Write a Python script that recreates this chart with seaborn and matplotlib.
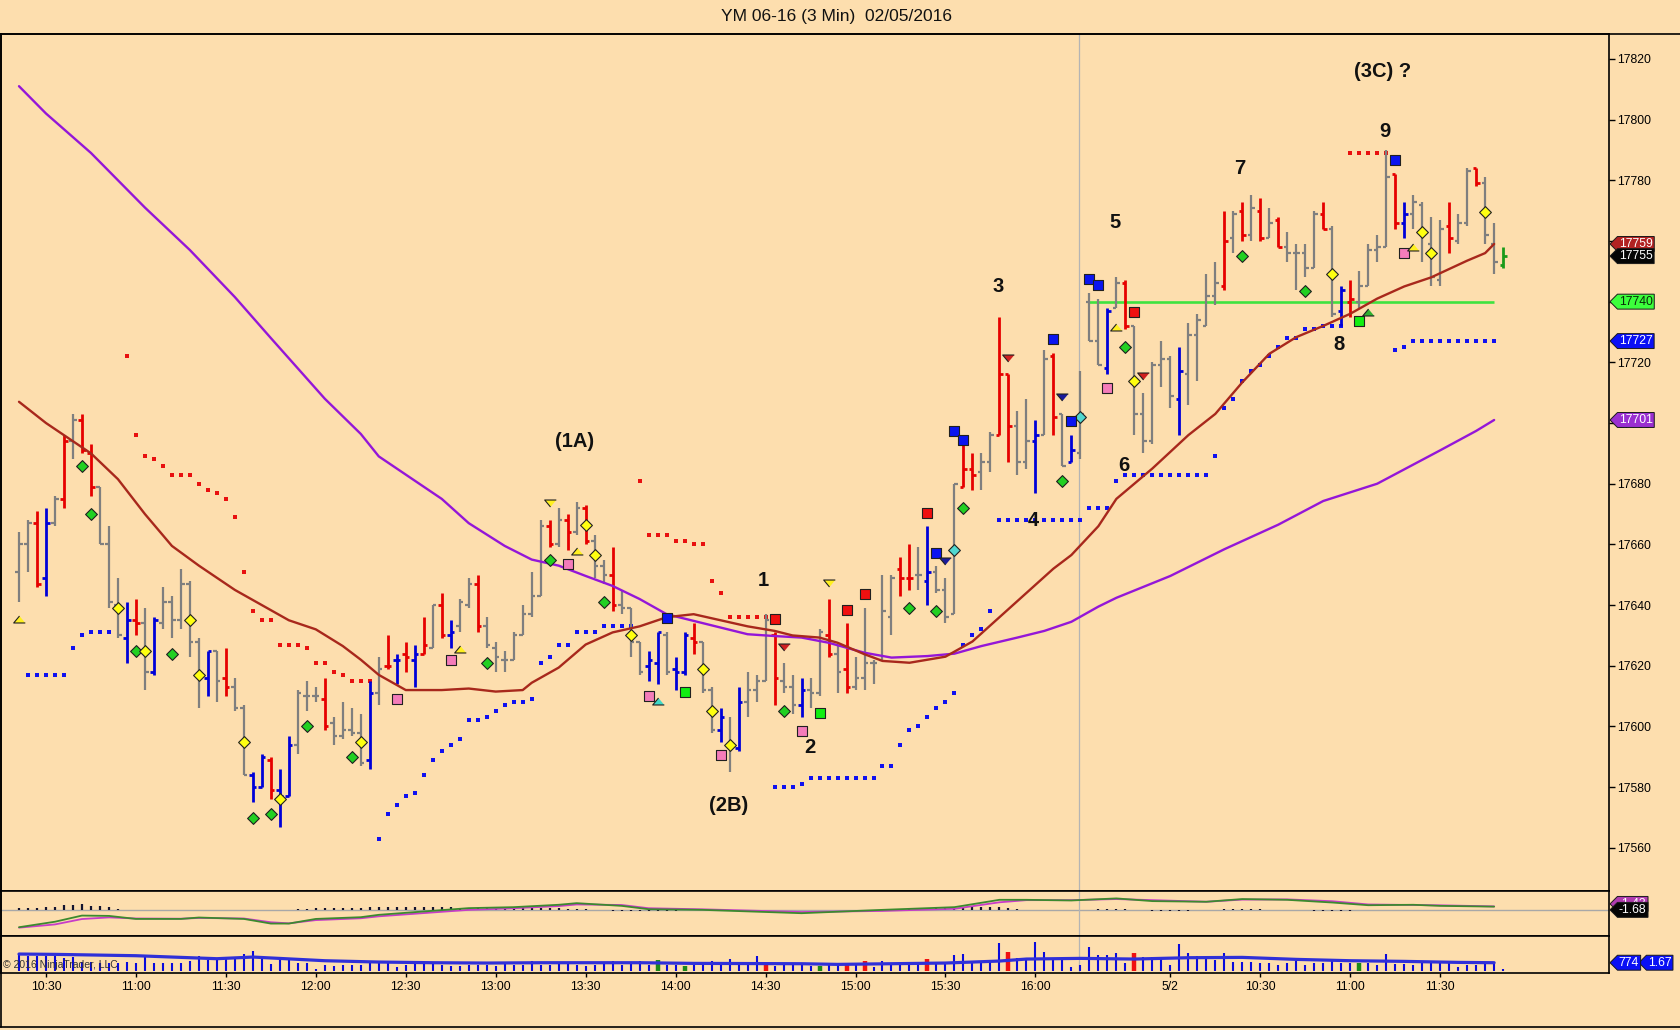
import numpy as np
import pandas as pd
import seaborn as sns
import matplotlib.pyplot as plt
import matplotlib.transforms as mtransforms
from matplotlib.path import Path
from matplotlib.lines import Line2D

# 3 min bars: bar 0 = 10:21 on 2/4, bar 119 = 9:33 on 2/5
opens = [17651, 17660, 17667, 17649, 17667, 17675, 17694, 17701, 17690, 17679,
         17660, 17640, 17629, 17635, 17634, 17618, 17634, 17641, 17635, 17647,
         17628, 17616, 17625, 17616, 17613, 17606, 17584, 17580, 17589, 17579,
         17577, 17594, 17610, 17610, 17609, 17601, 17597, 17599, 17598, 17589,
         17611, 17620, 17622, 17624, 17622, 17624, 17626, 17640, 17630, 17633,
         17640, 17647, 17633, 17626, 17622, 17622, 17630, 17637, 17643, 17666,
         17660, 17668, 17664, 17672, 17661, 17653, 17650, 17640, 17639, 17628,
         17620, 17621, 17630, 17619, 17618, 17629, 17628, 17612, 17599, 17594,
         17593, 17608, 17612, 17615, 17630, 17615, 17613, 17607, 17612, 17611,
         17630, 17624, 17619, 17613, 17616, 17621, 17622, 17636, 17652, 17649,
         17650, 17648, 17651, 17645, 17637, 17679, 17685, 17684, 17687, 17696,
         17716, 17699, 17687, 17694, 17696, 17722, 17703, 17687, 17690, 17740,
         17727, 17718, 17738, 17746, 17732, 17703, 17694, 17719, 17721, 17708,
         17716, 17729, 17732, 17742, 17745, 17761, 17770, 17762, 17770, 17761,
         17767, 17758, 17756, 17756, 17751, 17769, 17764, 17737, 17740, 17740,
         17745, 17757, 17758, 17782, 17766, 17769, 17772, 17759, 17747, 17765,
         17760, 17766, 17784, 17779, 17759, 17752]
highs = [17664, 17668, 17671, 17672, 17676, 17696, 17703, 17703, 17693, 17679,
         17666, 17649, 17641, 17642, 17639, 17636, 17646, 17643, 17652, 17648,
         17629, 17625, 17625, 17626, 17616, 17607, 17585, 17591, 17590, 17586,
         17597, 17612, 17615, 17613, 17616, 17603, 17608, 17606, 17604, 17615,
         17623, 17630, 17624, 17628, 17627, 17636, 17640, 17644, 17635, 17642,
         17649, 17650, 17636, 17628, 17625, 17631, 17640, 17651, 17668, 17668,
         17672, 17670, 17674, 17673, 17663, 17655, 17659, 17645, 17639, 17628,
         17625, 17631, 17631, 17623, 17631, 17634, 17628, 17613, 17606, 17603,
         17613, 17618, 17617, 17637, 17631, 17621, 17617, 17616, 17616, 17632,
         17642, 17627, 17634, 17623, 17639, 17622, 17650, 17650, 17656, 17660,
         17659, 17666, 17653, 17649, 17680, 17693, 17690, 17690, 17697, 17735,
         17716, 17704, 17708, 17701, 17724, 17723, 17703, 17696, 17717, 17743,
         17741, 17738, 17748, 17747, 17732, 17710, 17720, 17727, 17722, 17725,
         17733, 17736, 17749, 17753, 17770, 17770, 17773, 17775, 17774, 17771,
         17768, 17763, 17759, 17759, 17770, 17773, 17765, 17745, 17747, 17750,
         17759, 17762, 17790, 17782, 17773, 17775, 17773, 17768, 17767, 17773,
         17769, 17784, 17784, 17781, 17766, 17758]
lows = [17641, 17651, 17646, 17643, 17666, 17672, 17688, 17690, 17676, 17660,
        17639, 17629, 17621, 17630, 17612, 17617, 17632, 17629, 17632, 17623,
        17606, 17610, 17608, 17610, 17605, 17584, 17575, 17580, 17576, 17567,
        17577, 17591, 17605, 17608, 17599, 17594, 17596, 17597, 17587, 17586,
        17607, 17619, 17614, 17618, 17613, 17624, 17626, 17629, 17626, 17631,
        17639, 17631, 17626, 17618, 17618, 17622, 17630, 17636, 17643, 17659,
        17659, 17658, 17663, 17660, 17649, 17647, 17638, 17637, 17623, 17617,
        17615, 17614, 17617, 17612, 17617, 17624, 17611, 17598, 17595, 17585,
        17592, 17603, 17608, 17615, 17607, 17611, 17604, 17603, 17606, 17610,
        17623, 17611, 17611, 17612, 17612, 17614, 17622, 17630, 17643, 17645,
        17645, 17640, 17644, 17634, 17637, 17679, 17678, 17678, 17684, 17696,
        17687, 17683, 17685, 17677, 17696, 17696, 17686, 17687, 17688, 17727,
        17719, 17716, 17738, 17731, 17696, 17690, 17693, 17712, 17705, 17696,
        17706, 17714, 17732, 17739, 17744, 17756, 17760, 17760, 17760, 17761,
        17758, 17753, 17744, 17748, 17751, 17764, 17735, 17732, 17735, 17738,
        17745, 17753, 17758, 17764, 17761, 17764, 17753, 17745, 17745, 17756,
        17759, 17765, 17778, 17759, 17749, 17751]
closes = [17660, 17667, 17647, 17667, 17675, 17694, 17701, 17691, 17679, 17660,
          17641, 17630, 17635, 17634, 17618, 17635, 17641, 17635, 17647, 17628,
          17616, 17625, 17615, 17613, 17606, 17584, 17580, 17590, 17579, 17577,
          17594, 17611, 17610, 17610, 17600, 17597, 17599, 17598, 17588, 17611,
          17619, 17620, 17622, 17623, 17624, 17627, 17640, 17630, 17631, 17641,
          17647, 17633, 17627, 17623, 17622, 17630, 17637, 17643, 17666, 17660,
          17668, 17664, 17672, 17661, 17653, 17650, 17640, 17639, 17628, 17618,
          17622, 17631, 17618, 17618, 17630, 17628, 17612, 17599, 17603, 17593,
          17608, 17612, 17615, 17635, 17616, 17613, 17607, 17612, 17611, 17631,
          17624, 17618, 17613, 17616, 17621, 17621, 17638, 17649, 17649, 17649,
          17650, 17651, 17645, 17636, 17680, 17685, 17683, 17687, 17696, 17716,
          17699, 17687, 17694, 17696, 17721, 17702, 17686, 17691, 17703, 17727,
          17719, 17737, 17746, 17732, 17703, 17694, 17719, 17721, 17709, 17717,
          17729, 17734, 17742, 17746, 17760, 17769, 17762, 17771, 17761, 17766,
          17758, 17756, 17756, 17751, 17769, 17764, 17736, 17744, 17741, 17745,
          17757, 17758, 17781, 17766, 17769, 17773, 17763, 17748, 17764, 17761,
          17766, 17783, 17779, 17762, 17753, 17755]

# bar paint state
red_bars = [2, 5, 7, 8, 13, 23, 28, 34, 41, 43, 45, 47, 51, 59, 61, 63, 66, 75, 84, 90,
            92, 98, 99, 105, 106, 109, 110, 115, 123, 134, 136, 138, 140, 145, 148, 153, 159, 162]
blue_bars = [3, 12, 15, 21, 26, 27, 29, 30, 39, 42, 44, 48, 70, 71, 73, 74, 78, 80, 87, 101,
             113, 117, 121, 129, 147, 154]
green_bars = [165]

# moving averages (sampled along the bars)
fast_ma_idx = [0, 3, 5, 8, 11, 14, 17, 20, 24, 27, 30, 33, 36, 38, 40, 43, 47, 50, 53, 56,
               57, 60, 63, 66, 69, 72, 75, 78, 81, 84, 86, 89, 91, 94, 96, 99, 103, 106, 109, 112,
               115, 117, 120, 122, 126, 130, 133, 136, 139, 142, 145, 148, 151, 154, 157, 161, 163, 164]
fast_ma = [17707, 17700, 17696, 17690, 17681.5, 17670, 17659.5, 17653, 17645, 17640,
           17635, 17632, 17626.5, 17622, 17617, 17612, 17612, 17612.5, 17611.5, 17612,
           17614.4, 17619.4, 17627, 17631, 17633, 17636, 17637, 17635, 17633, 17631.5,
           17630, 17629.3, 17627.6, 17623.8, 17621.6, 17621, 17623, 17628, 17636, 17644,
           17652, 17656.5, 17666, 17675, 17685, 17696, 17703, 17713.4, 17722.8, 17728.3,
           17732, 17736, 17741, 17745, 17748, 17753.5, 17756, 17759]
slow_ma_idx = [0, 3, 8, 12, 14, 19, 24, 28, 31, 34, 38, 40, 44, 47, 50, 54, 57, 60, 63, 66,
               69, 72, 75, 78, 81, 84, 87, 90, 94, 97, 101, 104, 107, 111, 114, 117, 120, 122, 128, 134,
               140, 145, 151, 158, 162, 164]
slow_ma = [17811, 17802, 17789, 17777, 17771, 17757, 17741.5, 17728, 17718, 17708,
           17696.4, 17689, 17681, 17675, 17667, 17659.5, 17655, 17653, 17649.6, 17646.3,
           17642, 17637, 17634.8, 17632.6, 17630.4, 17629.8, 17629.3, 17627.6, 17624.3, 17622.7,
           17623.2, 17624, 17626.5, 17629.3, 17631.5, 17634.5, 17639.5, 17642.4, 17649.6, 17658.4,
           17666.5, 17674.3, 17680, 17691, 17697.4, 17701]

# trailing stop dots
long_stop_idx = [1, 2, 3, 4, 5, 6, 7, 8, 9, 10,
                 40, 41, 42, 43, 44, 45, 46, 47, 48, 49, 50, 51, 52, 53, 54, 55, 56, 57, 58, 59,
                 60, 61, 62, 63, 64, 65, 66, 67, 68,
                 84, 85, 86, 87, 88, 89, 90, 91, 92, 93, 94, 95, 96, 97, 98, 99, 100, 101, 102, 103,
                 104, 105, 106, 107, 108, 109, 110, 111, 112, 113, 114, 115, 116, 117, 118, 119, 120, 121, 122, 123,
                 124, 125, 126, 127, 128, 129, 130, 131, 132, 133, 134, 135, 136, 137, 138, 139, 140, 141, 142, 143,
                 144, 145, 146, 147, 153, 154, 155, 156, 157, 158, 159, 160, 161, 162, 163, 164]
long_stop = [17617, 17617, 17617, 17617, 17617, 17626, 17630, 17631, 17631, 17631,
             17563, 17571, 17574, 17577, 17578, 17584, 17589, 17592, 17594, 17596, 17602, 17602, 17603, 17605, 17607, 17608, 17608, 17609, 17621, 17623,
             17627, 17627, 17631, 17631, 17631, 17633, 17633, 17633, 17633,
             17580, 17580, 17580, 17581, 17583, 17583, 17583, 17583, 17583, 17583, 17583, 17583, 17587, 17587, 17594, 17599, 17600, 17603, 17606, 17608,
             17611, 17627, 17630, 17632, 17638, 17668, 17668, 17668, 17668, 17668, 17668, 17668, 17668, 17668, 17668, 17672, 17672, 17672, 17681, 17683,
             17683, 17683, 17683, 17683, 17683, 17683, 17683, 17683, 17683, 17689, 17705, 17708, 17714, 17717, 17719, 17722, 17725, 17728, 17728, 17731,
             17731, 17732, 17732, 17732, 17724, 17725, 17727, 17727, 17727, 17727, 17727, 17727, 17727, 17727, 17727, 17727]
short_stop_idx = [12, 13, 14, 15, 16, 17, 18, 19, 20, 21, 22, 23, 24, 25, 26, 27, 28, 29, 30, 31,
                  32, 33, 34, 35, 36, 37, 38, 39,
                  69, 70, 71, 72, 73, 74, 75, 76, 77, 78, 79, 80, 81, 82, 83,
                  148, 149, 150, 151, 152]
short_stop = [17722, 17696, 17689, 17688, 17686, 17683, 17683, 17683, 17680, 17678, 17677, 17675, 17669, 17651, 17638, 17635, 17635, 17627, 17627, 17627,
              17626, 17621, 17621, 17618, 17617, 17615, 17615, 17615,
              17681, 17663, 17663, 17663, 17661, 17661, 17660, 17660, 17648, 17644, 17636, 17636, 17636, 17636, 17636,
              17789, 17789, 17789, 17789, 17789]

# signal markers (bar index, price)
green_diamond_idx = [7, 8, 13, 17, 26, 28, 32, 37, 52, 59, 65, 85, 99, 102, 105, 116, 123, 136, 143]
green_diamond_px = [17686, 17670, 17625, 17624, 17570, 17571, 17600, 17590, 17621, 17655,
                    17641, 17605, 17639, 17638, 17672, 17681, 17725, 17755, 17743.5]
yellow_diamond_idx = [11, 14, 19, 20, 25, 29, 38, 63, 64, 68, 76, 77, 79, 124, 146, 156, 157, 163]
yellow_diamond_px = [17639, 17625, 17635, 17617, 17595, 17576, 17595, 17666.5, 17656.6, 17630,
                     17619, 17605, 17594, 17714, 17749, 17763, 17756, 17769.5]
cyan_diamond_idx = [104, 118]
cyan_diamond_px = [17658, 17702]
pink_square_idx = [42, 48, 61, 70, 78, 87, 121, 154]
pink_square_px = [17609, 17622, 17653.5, 17610, 17590.5, 17598.5, 17711.6, 17756]
blue_square_idx = [72, 102, 104, 105, 115, 117, 119, 120, 153]
blue_square_px = [17635.6, 17657.3, 17697.5, 17694.5, 17727.7, 17700.6, 17747.5, 17745.6, 17786.8]
red_square_idx = [84, 92, 94, 101, 124]
red_square_px = [17635.3, 17638.3, 17643.6, 17670.5, 17736.5]
green_square_idx = [74, 89, 149]
green_square_px = [17611.3, 17604.3, 17733.5]
yellow_up_idx = [0, 49, 62, 122, 155]
yellow_up_px = [17635.3, 17625.6, 17657.7, 17731.8, 17758]
yellow_down_idx = [59, 90]
yellow_down_px = [17673.5, 17647.4]
red_down_idx = [85, 110, 125]
red_down_px = [17626.3, 17721.5, 17715.4]
blue_down_idx = [103, 116]
blue_down_px = [17654.6, 17708.5]
green_up_idx = [150]
green_up_px = [17736.7]
teal_up_idx = [71]
teal_up_px = [17608.4]

# wave count labels
wave_text = ['(1A)', '1', '(2B)', '2', '3', '4', '5', '6', '7', '8', '9', '(3C) ?']
wave_idx = [61.8, 82.8, 78.9, 87.9, 108.8, 112.8, 121.8, 122.8, 135.7, 146.8, 151.8, 151.6]
wave_px = [17694, 17648, 17574, 17593, 17745, 17668, 17766, 17686, 17784, 17726, 17796, 17816]

# horizontal level and session break
level_px = 17740
level_from, level_to = 119, 164
session_break = 117.9

# oscillator panel
osc_idx = [0, 4, 7, 10, 13, 18, 20, 25, 28, 30, 33, 38, 40, 45, 50, 55, 60, 62, 67, 70,
           76, 87, 96, 104, 109, 112, 117, 122, 126, 132, 136, 141, 146, 150, 155, 158, 164]
osc_fast = [-1.61, -1.1, -0.53, -0.56, -0.84, -0.84, -0.71, -0.84, -1.27, -1.27,
            -0.84, -0.68, -0.46, -0.15, 0.16, 0.25, 0.47, 0.62, 0.37, 0.06,
            0.0, -0.31, 0.0, 0.25, 0.93, 0.93, 0.87, 1.06, 0.81, 0.75,
            1.0, 0.93, 0.68, 0.43, 0.47, 0.37, 0.3]
osc_slow = [-1.65, -1.35, -0.85, -0.7, -0.8, -0.82, -0.75, -0.8, -1.15, -1.25,
            -0.95, -0.78, -0.6, -0.3, 0.0, 0.15, 0.35, 0.5, 0.45, 0.15,
            0.05, -0.2, -0.1, 0.1, 0.7, 0.9, 0.9, 1.0, 0.9, 0.75,
            0.95, 0.97, 0.8, 0.5, 0.45, 0.42, 0.32]
hist_idx = [0, 1, 2, 3, 4, 5, 6, 7, 8, 9, 10, 11, 14, 18, 19, 26, 27, 28, 29, 30,
            31, 32, 33, 34, 35, 36, 37, 38, 39, 40, 41, 42, 43, 44, 45, 46, 47, 48, 49, 50,
            51, 52, 53, 54, 55, 56, 57, 58, 59, 60, 61, 62, 63, 64, 66, 67, 68, 69, 70, 71,
            72, 73, 74, 75, 89, 90, 91, 92, 93, 94, 95, 96, 97, 98, 99, 100, 101, 102, 103, 104,
            105, 106, 107, 108, 109, 110, 111, 112, 113, 114, 115, 116, 120, 121, 122, 123, 126, 127, 128, 129,
            130, 131, 134, 135, 136, 137, 138, 139, 143, 144, 145, 146, 147, 148, 149, 157, 158, 159, 160, 164]
hist_val = [0.16, 0.16, 0.19, 0.25, 0.31, 0.43, 0.47, 0.50, 0.40, 0.34, 0.22, 0.09, 0.03, 0.03, 0.03, 0.03, 0.03, 0.03, 0.03, 0.03,
            0.06, 0.10, 0.16, 0.16, 0.16, 0.16, 0.19, 0.19, 0.25, 0.25, 0.25, 0.25, 0.25, 0.25, 0.25, 0.25, 0.25, 0.22, 0.19, 0.19,
            0.16, 0.16, 0.16, 0.16, 0.16, 0.16, 0.19, 0.19, 0.16, 0.16, 0.12, 0.09, 0.06, 0.03, -0.06, -0.09, -0.12, -0.12, -0.09, -0.09,
            -0.06, -0.06, -0.03, -0.03, 0.03, 0.03, 0.03, 0.03, 0.03, 0.03, 0.03, 0.06, 0.06, 0.09, 0.09, 0.12, 0.12, 0.16, 0.16, 0.19,
            0.22, 0.25, 0.28, 0.31, 0.25, 0.16, 0.06, 0.03, 0.03, 0.03, 0.03, 0.03, 0.06, 0.06, 0.06, 0.06, -0.06, -0.09, -0.09, -0.06,
            -0.06, -0.03, 0.06, 0.09, 0.09, 0.06, 0.06, 0.03, -0.03, -0.06, -0.09, -0.09, -0.09, -0.06, -0.03, 0.03, 0.03, 0.03, 0.03, 0.02]

# volume panel
volume = [1142, 1008, 1008, 1008, 1030, 851, 963, 627, 627, 560,
          560, 515, 605, 515, 1008, 560, 560, 560, 560, 694,
          1008, 739, 739, 918, 963, 1142, 1322, 874, 470, 739,
          739, 560, 515, 157, 426, 336, 381, 426, 426, 560,
          560, 515, 246, 381, 560, 560, 560, 426, 336, 336,
          426, 426, 426, 336, 470, 426, 426, 650, 426, 426,
          515, 470, 426, 336, 426, 470, 694, 426, 470, 650,
          426, 739, 426, 426, 336, 426, 426, 650, 426, 784,
          426, 426, 1008, 515, 336, 426, 426, 426, 336, 336,
          515, 448, 426, 426, 672, 291, 694, 560, 560, 560,
          560, 784, 560, 515, 1075, 1142, 515, 627, 739, 1859,
          1277, 851, 851, 1949, 1277, 739, 739, 291, 403, 1635,
          1075, 1075, 1187, 515, 1187, 963, 963, 851, 403, 1814,
          1232, 1008, 1008, 739, 1187, 627, 627, 627, 560, 560,
          403, 560, 694, 403, 560, 560, 784, 515, 515, 515,
          515, 403, 1142, 470, 470, 403, 515, 627, 560, 560,
          246, 403, 403, 470, 470, 120]
vol_red = [83, 92, 94, 101, 110, 124]
vol_green = [71, 74, 89, 149]
vol_ma_idx = [0, 4, 13, 22, 26, 34, 40, 46, 52, 58, 69, 75, 87, 91, 103, 109, 112, 118, 124, 130,
              136, 142, 148, 154, 160, 164]
vol_ma = [1142, 1120, 1030, 829, 940, 694, 605, 560, 538, 560, 560, 515, 493, 448, 538, 672, 806, 851, 806, 896,
          918, 784, 694, 650, 582, 560]

tick_idx = [3, 13, 23, 33, 43, 53, 63, 73, 83, 93, 103, 113, 128, 138, 148, 158]
tick_lbl = ['10:30', '11:00', '11:30', '12:00', '12:30', '13:00', '13:30', '14:00', '14:30',
            '15:00', '15:30', '16:00', '5/2', '10:30', '11:00', '11:30']

BG = '#FDDEAE'
sns.set_theme(style='white', rc={'axes.facecolor': BG, 'figure.facecolor': BG,
                                 'axes.edgecolor': 'black', 'axes.linewidth': 1.2})
plt.rcParams['font.family'] = ['Liberation Sans', 'DejaVu Sans']


class PriceTag:
    # box with a pointed left side, like the platform's price markers
    def __init__(self, pad=0.1):
        self.pad = pad

    def __call__(self, x0, y0, width, height, mutation_size):
        pad = mutation_size * self.pad
        x0, y0 = x0 - pad, y0 - pad
        x1, y1 = x0 + width + 2 * pad, y0 + height + 2 * pad
        tip = (y1 - y0) * 0.5
        return Path([(x0, y0), (x1, y0), (x1, y1), (x0, y1),
                     (x0 - tip, (y0 + y1) / 2), (x0, y0)], closed=True)


def tag(axis, y, text, fc, tc, x=1.006, z=10, size=8.8):
    tr = mtransforms.blended_transform_factory(axis.transAxes, axis.transData)
    axis.text(x, y, text, transform=tr, ha='left', va='center', fontsize=size, color=tc,
              zorder=z, clip_on=False,
              bbox=dict(boxstyle=PriceTag(0.12), fc=fc, ec='#1a1a1a', lw=0.7))


fig = plt.figure(figsize=(16.8, 10.3), dpi=100)
L, W = 0.0006, 0.9573
ax = fig.add_axes([L, 0.1353, W, 0.8314])
ax_osc = fig.add_axes([L, 0.0916, W, 0.0437])
ax_vol = fig.add_axes([L, 0.0552, W, 0.0364])
xlim = (-2.0, 176.8)

# ---- price panel ----
n = len(closes)
x = np.arange(n)
bar_col = np.array(['#7F7F7F'] * n, dtype=object)
bar_lw = np.full(n, 1.6)
bar_col[red_bars] = '#E60000'
bar_col[blue_bars] = '#0000D8'
bar_col[green_bars] = '#1A9A1A'
for grp in (red_bars, blue_bars, green_bars):
    bar_lw[grp] = 2.0
ax.vlines(x, lows, highs, colors=bar_col, linewidth=bar_lw, zorder=3)
ax.hlines(opens, x - 0.4, x, colors=bar_col, linewidth=bar_lw, zorder=3)
ax.hlines(closes, x, x + 0.4, colors=bar_col, linewidth=bar_lw, zorder=3)

sns.lineplot(x=slow_ma_idx, y=slow_ma, ax=ax, color='#9416D8', linewidth=1.7, zorder=4)
sns.lineplot(x=fast_ma_idx, y=fast_ma, ax=ax, color='#A8281C', linewidth=1.7, zorder=4)
ax.hlines(level_px, level_from, level_to, color='#3FE23F', linewidth=1.9, zorder=2)

ax.scatter(long_stop_idx, long_stop, marker='s', s=9, color='#1010F0', linewidths=0, zorder=2)
ax.scatter(short_stop_idx, short_stop, marker='s', s=9, color='#E81010', linewidths=0, zorder=2)

up_tri = [(0, 0.6), (-1, -0.6), (1, -0.6)]
dn_tri = [(0, -0.6), (-1, 0.6), (1, 0.6)]
marker_sets = [
    (green_diamond_idx, green_diamond_px, 'D', 36, '#22D022'),
    (yellow_diamond_idx, yellow_diamond_px, 'D', 36, '#FFFF10'),
    (cyan_diamond_idx, cyan_diamond_px, 'D', 36, '#50D8D0'),
    (pink_square_idx, pink_square_px, 's', 58, '#F47CBA'),
    (blue_square_idx, blue_square_px, 's', 58, '#0A14F0'),
    (red_square_idx, red_square_px, 's', 58, '#F01010'),
    (green_square_idx, green_square_px, 's', 58, '#12EE12'),
    (yellow_up_idx, yellow_up_px, up_tri, 70, '#FFF020'),
    (yellow_down_idx, yellow_down_px, dn_tri, 70, '#FFF020'),
    (red_down_idx, red_down_px, dn_tri, 70, '#D02020'),
    (blue_down_idx, blue_down_px, dn_tri, 70, '#1A1A9A'),
    (green_up_idx, green_up_px, up_tri, 70, '#30B030'),
    (teal_up_idx, teal_up_px, up_tri, 70, '#40D8C8'),
]
for idx, px, mk, size, fc in marker_sets:
    ax.scatter(idx, px, marker=mk, s=size, facecolor=fc, edgecolor='#202020',
               linewidths=0.8, zorder=6)

for t, xi, yi in zip(wave_text, wave_idx, wave_px):
    ax.text(xi, yi, t, ha='center', va='center', fontsize=14.5, fontweight='bold',
            color='#111111', zorder=7)

ax.axvline(session_break, color='#B4B4B4', linewidth=0.9, zorder=1)
ax.set_xlim(*xlim)
ax.set_ylim(17545.9, 17828.1)
ax.set_yticks(np.arange(17560, 17821, 20))
ax.yaxis.tick_right()
ax.tick_params(axis='y', right=True, left=False, direction='out', length=4, width=1,
               labelsize=8.8, pad=2, colors='black')
ax.tick_params(axis='x', bottom=False, labelbottom=False)
ax.set_xlabel('')
ax.set_ylabel('')

tag(ax, fast_ma[-1], f'{fast_ma[-1]:.0f}', '#B22222', 'white')
tag(ax, closes[-1], f'{closes[-1]:.0f}', '#050505', 'white', z=11)
tag(ax, level_px, f'{level_px:.0f}', '#3CFF3C', '#0A2A0A')
tag(ax, long_stop[-1], f'{long_stop[-1]:.0f}', '#0A10F5', 'white')
tag(ax, slow_ma[-1], f'{slow_ma[-1]:.0f}', '#9A2FD0', 'white')

# ---- oscillator panel ----
ax_osc.axhline(0, color='#A8A8A8', linewidth=1, zorder=1)
ax_osc.vlines(hist_idx, 0, hist_val, colors='#141430', linewidth=1.6, zorder=2)
sns.lineplot(x=osc_idx, y=osc_slow, ax=ax_osc, color='#C83CC8', linewidth=1.3, zorder=3)
sns.lineplot(x=osc_idx, y=osc_fast, ax=ax_osc, color='#3C8A2E', linewidth=1.3, zorder=3)
ax_osc.axvline(session_break, color='#B4B4B4', linewidth=0.9, zorder=1)
ax_osc.set_xlim(*xlim)
ax_osc.set_ylim(-2.39, 1.78)
ax_osc.set_xticks([])
ax_osc.set_yticks([])
ax_osc.set_xlabel('')
ax_osc.set_ylabel('')
tag(ax_osc, 0.55, '-1.43', '#B03CB0', 'white', z=9)
tag(ax_osc, 0.0, '-1.68', '#050505', 'white', z=10)

# ---- volume panel ----
vx = np.arange(len(volume))
vcol = np.array(['#0A0ADC'] * len(volume), dtype=object)
vlw = np.full(len(volume), 1.5)
vcol[vol_red] = '#F01010'
vcol[vol_green] = '#1A8A1A'
vlw[vol_red] = 3.2
vlw[vol_green] = 3.2
ax_vol.vlines(vx, 0, volume, colors=vcol, linewidth=vlw, zorder=2)
sns.lineplot(x=vol_ma_idx, y=vol_ma, ax=ax_vol, color='#3030D8', linewidth=2.3, zorder=3)
ax_vol.axvline(session_break, color='#B4B4B4', linewidth=0.9, zorder=1)
ax_vol.set_xlim(*xlim)
ax_vol.set_ylim(-140, 2376)
ax_vol.set_yticks([])
ax_vol.set_xticks(tick_idx)
ax_vol.set_xticklabels(tick_lbl)
ax_vol.tick_params(axis='x', bottom=True, direction='out', length=3, width=1,
                   labelsize=8.8, pad=3, colors='black')
ax_vol.set_xlabel('')
ax_vol.set_ylabel('')
tag(ax_vol, vol_ma[-1], '1.67', '#0A10F5', 'white', x=1.024, z=9)
tag(ax_vol, vol_ma[-1], f'{774}', '#0A10F5', 'white', z=10)

# outer frame and captions
fig.add_artist(Line2D([0, 1], [0.9667, 0.9667], transform=fig.transFigure, color='black', lw=1.2))
fig.add_artist(Line2D([0, 1], [0.003, 0.003], transform=fig.transFigure, color='black', lw=1.2))
fig.add_artist(Line2D([0.0006, 0.0006], [0.003, 0.9667], transform=fig.transFigure, color='black', lw=1.2))
fig.text(0.498, 0.984, 'YM 06-16 (3 Min)  02/05/2016', ha='center', va='center', fontsize=12.5,
         color='#111111')
fig.text(0.002, 0.0635, '\u00a9 2016 NinjaTrader, LLC', ha='left', va='center', fontsize=7.5,
         color='#333333')

fig.savefig('out.png', dpi=100, facecolor=BG)
